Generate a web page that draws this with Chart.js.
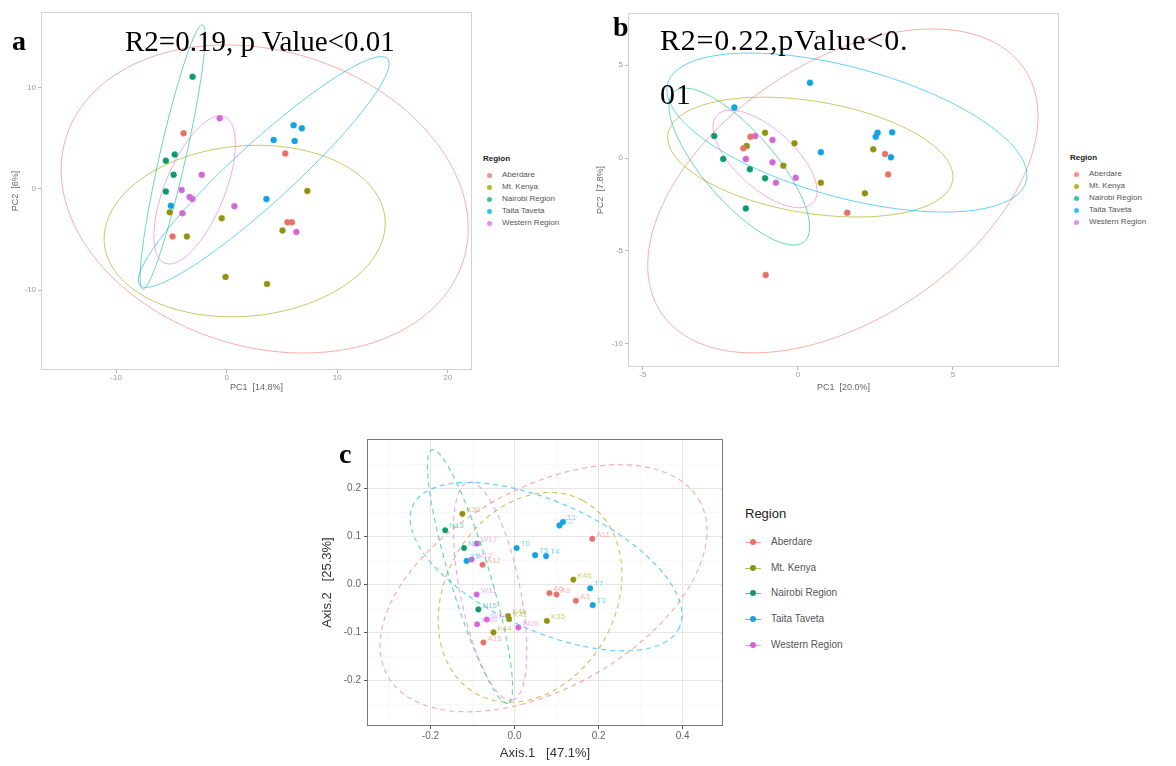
<!DOCTYPE html>
<html>
<head>
<meta charset="utf-8">
<script src="https://cdn.jsdelivr.net/npm/chart.js@4.4.1/dist/chart.umd.min.js"></script>
<style>
body { margin: 0; background: #fff; width: 1176px; height: 766px; position: relative; overflow: hidden; font-family: 'Liberation Sans', Arial, sans-serif; }
canvas { position: absolute; }
.lbl { position: absolute; font-family: 'Liberation Serif', 'Times New Roman', serif; line-height: 1; white-space: nowrap; color: #000; }
.leg { position: absolute; white-space: nowrap; line-height: 1; }
</style>
</head>
<body>
<canvas id="chartA" width="480" height="400" style="left:0;top:0"></canvas>
<canvas id="chartB" width="490" height="400" style="left:580px;top:0"></canvas>
<canvas id="chartC" width="440" height="336" style="left:300px;top:430px"></canvas>

<div class="lbl" style="left:12px;top:27px;font-size:28px;font-weight:bold">a</div>
<div class="lbl" style="left:125px;top:27px;font-size:29px">R2=0.19, p Value&lt;0.01</div>
<div class="lbl" style="left:613px;top:13px;font-size:28px;font-weight:bold">b</div>
<div class="lbl" style="left:660px;top:25px;font-size:30px;letter-spacing:0.8px">R2=0.22,pValue&lt;0.</div>
<div class="lbl" style="left:660px;top:79px;font-size:30px;letter-spacing:0.8px">01</div>
<div class="lbl" style="left:339px;top:440px;font-size:28px;font-weight:bold">c</div>

<script>
const regions = ['Aberdare', 'Mt. Kenya', 'Nairobi Region', 'Taita Taveta', 'Western Region'];
const hues = ['#F8766D', '#A3A500', '#00BF7D', '#00B0F6', '#E76BF3'];
const dotColors = ['#e4736a', '#8e9218', '#17946e', '#1aa0dc', '#d068d6'];

// panel a: [region, PC1, PC2]
const pointsA = [
    [0, -3.9, 5.5], [0, 5.3, 3.5], [0, 5.5, -3.3], [0, 5.9, -3.3], [0, -4.9, -4.7],
    [1, 7.3, -0.2], [1, -5.15, -2.3], [1, -0.45, -2.9], [1, 5.05, -4.1], [1, -3.6, -4.7], [1, -0.1, -8.7], [1, 3.65, -9.4],
    [2, -3.08, 11.1], [2, -4.7, 3.4], [2, -5.5, 2.8], [2, -4.8, 1.4], [2, -5.5, -0.25],
    [3, 4.25, 4.85], [3, 6.06, 6.3], [3, 6.8, 6.0], [3, 6.15, 4.75], [3, 3.6, -1.0], [3, -5.05, -1.65],
    [4, -0.63, 7.0], [4, -2.26, 1.4], [4, -4.07, -0.1], [4, -3.35, -0.8], [4, -3.1, -1.0], [4, 0.7, -1.7], [4, -4.0, -2.4], [4, 6.3, -4.25]
];
// ellipses: [cx, cy, ux, uy, vx, vy] in data units, region order
const ellipsesA = [
    [3.44, -0.99, 18.0, -6.0, -3.9, -14.0],
    [1.63, -4.16, 12.7, 1.22, 0.67, -8.39],
    [-4.89, 3.17, 2.71, 13.07, 1.15, -0.29],
    [3.35, 1.68, 11.2, 11.2, 1.81, -2.18],
    [-2.9, -0.1, 2.71, 7.23, 2.5, -1.13]
];
const xTicksA = [-10, 0, 10, 20];
const yTicksA = [-10, 0, 10];

// panel b
const pointsB = [
    [0, -1.53, 1.15], [0, -1.76, 0.52], [0, 2.81, 0.22], [0, 2.91, -0.88], [0, 1.59, -2.94], [0, -1.04, -6.29],
    [1, -1.06, 1.36], [1, -0.11, 0.79], [1, -1.65, 0.65], [1, -0.47, -0.41], [1, 0.74, -1.33], [1, 2.16, -1.9], [1, 2.43, 0.47],
    [2, -2.7, 1.18], [2, -2.41, -0.05], [2, -1.55, -0.61], [2, -1.06, -1.09], [2, -1.68, -2.71],
    [3, 0.39, 4.05], [3, -2.05, 2.72], [3, 0.74, 0.31], [3, 2.57, 1.36], [3, 2.51, 1.15], [3, 3.04, 1.38], [3, 3.0, 0.04],
    [4, -1.38, 1.18], [4, -0.82, 0.97], [4, -1.68, -0.05], [4, -0.82, -0.23], [4, -0.07, -1.06], [4, -0.71, -1.33]
];
const ellipsesB = [
    [1.45, -1.77, 5.85, 6.57, 2.32, -5.72],
    [0.40, 0.05, 4.59, -1.25, -0.29, -2.97],
    [-1.89, -0.46, 2.10, -4.03, -0.86, -1.25],
    [1.58, 1.37, 5.78, -2.63, -0.55, -3.37],
    [-1.06, -0.05, 1.55, -2.35, -0.64, -1.17]
];
const xTicksB = [-5, 0, 5];
const yTicksB = [-10, -5, 0, 5];

// panel c: [region, Axis.1, Axis.2, sample]
const pointsC = [
    [0, -0.076, 0.041, 'A12'], [0, 0.083, -0.018, 'A6'], [0, 0.10, -0.021, 'A8'], [0, 0.146, -0.034, 'A3'], [0, 0.185, 0.095, 'A11'], [0, -0.074, -0.121, 'A15'],
    [1, -0.124, 0.147, 'K39'], [1, 0.14, 0.01, 'K46'], [1, -0.015, -0.066, 'K40'], [1, -0.013, -0.072, 'K41'], [1, 0.077, -0.076, 'K35'], [1, -0.05, -0.10, 'K44'],
    [2, -0.165, 0.113, 'N13'], [2, -0.12, 0.076, 'N12'], [2, -0.086, -0.052, 'N15'],
    [3, 0.005, 0.076, 'T6'], [3, -0.114, 0.049, 'T9'], [3, 0.107, 0.123, 'T2'], [3, 0.115, 0.13, 'T1'], [3, 0.075, 0.059, 'T4'], [3, 0.049, 0.061, 'T5'], [3, 0.18, -0.008, 'T7'], [3, 0.186, -0.043, 'T3'],
    [4, -0.09, 0.085, 'W17'], [4, -0.102, 0.052, 'W12'], [4, -0.09, -0.021, 'W11'], [4, -0.089, -0.083, 'W16'], [4, -0.066, -0.073, 'W14'], [4, 0.009, -0.09, 'W20']
];
const ellipsesC = [
    [0.069, -0.008, 0.370, 0.184, 0.120, -0.180],
    [0.037, -0.027, 0.1255, 0.2019, 0.179, -0.0837],
    [-0.106, 0.0165, 0.0905, -0.264, -0.0457, -0.0118],
    [0.075, 0.037, 0.317, -0.127, -0.0645, -0.121],
    [-0.058, -0.014, 0.052, -0.227, 0.070, 0.012]
];
const xTicksC = [-0.2, 0, 0.2, 0.4];
const xTickLabelsC = ['-0.2', '0.0', '0.2', '0.4'];
const xMinorC = [-0.3, -0.1, 0.1, 0.3];
const yTicksC = [-0.2, -0.1, 0, 0.1, 0.2];
const yTickLabelsC = ['-0.2', '-0.1', '0.0', '0.1', '0.2'];
const yMinorC = [-0.25, -0.15, -0.05, 0.05, 0.15, 0.25];

function alpha(hex, a) {
    const n = parseInt(hex.slice(1), 16);
    return `rgba(${n >> 16},${(n >> 8) & 255},${n & 255},${a})`;
}

// draws the confidence ellipses through the chart scales
const ellipsePlugin = {
    id: 'ellipses',
    beforeDatasetsDraw(chart, args, opts) {
        const { ctx, chartArea } = chart;
        const sx = chart.scales.x, sy = chart.scales.y;
        ctx.save();
        ctx.beginPath();
        ctx.rect(chartArea.left, chartArea.top, chartArea.width, chartArea.height);
        ctx.clip();
        ctx.lineWidth = opts.width;
        ctx.setLineDash(opts.dash);
        opts.items.forEach((e, i) => {
            ctx.beginPath();
            for (let k = 0; k <= 180; k++) {
                const t = k / 180 * Math.PI * 2;
                const px = sx.getPixelForValue(e[0] + e[2] * Math.cos(t) + e[4] * Math.sin(t));
                const py = sy.getPixelForValue(e[1] + e[3] * Math.cos(t) + e[5] * Math.sin(t));
                if (k === 0) ctx.moveTo(px, py); else ctx.lineTo(px, py);
            }
            ctx.strokeStyle = alpha(hues[i], opts.alpha);
            ctx.stroke();
        });
        ctx.restore();
    }
};

const framePlugin = {
    id: 'frame',
    afterDraw(chart, args, opts) {
        const { ctx, chartArea: a } = chart;
        ctx.save();
        ctx.strokeStyle = opts.color;
        ctx.lineWidth = 1;
        ctx.strokeRect(Math.round(a.left) + 0.5, Math.round(a.top) + 0.5, Math.round(a.width) - 1, Math.round(a.height) - 1);
        ctx.restore();
    }
};

const labelPlugin = {
    id: 'pointLabels',
    afterDatasetsDraw(chart, args, opts) {
        if (!opts.show) return;
        const ctx = chart.ctx;
        ctx.save();
        ctx.font = '8px "Liberation Sans"';
        ctx.textBaseline = 'middle';
        chart.data.datasets.forEach((ds, i) => {
            chart.getDatasetMeta(i).data.forEach((pt, j) => {
                ctx.fillStyle = alpha(hues[i], 0.55);
                ctx.fillText(ds.sampleLabels[j], pt.x + 4, pt.y - 4);
            });
        });
        ctx.restore();
    }
};

function datasetsFrom(rows, radius) {
    return regions.map((name, r) => {
        const mine = rows.filter((row) => row[0] === r);
        return {
            label: name,
            data: mine.map((row) => ({ x: row[1], y: row[2] })),
            sampleLabels: mine.map((row) => row[3] || ''),
            backgroundColor: dotColors[r],
            borderColor: alpha(hues[r], 0.5),
            borderWidth: 1,
            pointRadius: radius
        };
    });
}

function smallAxis(min, max, ticks, fit, title, titlePad, isY) {
    return {
        type: 'linear',
        min: min,
        max: max,
        afterBuildTicks: (s) => { s.ticks = ticks.map((v) => ({ value: v })); },
        afterFit: (s) => { if (isY) s.width = fit; else s.height = fit; },
        border: { display: false },
        grid: { drawOnChartArea: false, tickLength: 3, tickColor: '#b5b5b5' },
        ticks: { font: { size: 8, family: 'Liberation Sans' }, color: '#999', padding: isY ? 2 : 0, callback: (v) => String(v) },
        title: { display: true, text: title, font: { size: 9, family: 'Liberation Sans' }, color: '#666', padding: titlePad }
    };
}

function pcaChart(id, rows, ellipses, xs, ys, pad) {
    return new Chart(document.getElementById(id), {
        type: 'scatter',
        data: { datasets: datasetsFrom(rows, 3) },
        options: {
            responsive: false,
            animation: false,
            layout: { padding: pad },
            plugins: {
                legend: { display: false },
                tooltip: { enabled: false },
                ellipses: { items: ellipses, dash: [], width: 1, alpha: 0.6 },
                frame: { color: '#d2d2d2' },
                pointLabels: { show: false }
            },
            scales: { x: xs, y: ys }
        },
        plugins: [ellipsePlugin, framePlugin, labelPlugin]
    });
}

pcaChart('chartA', pointsA, ellipsesA,
    smallAxis(-16.8, 22.2, xTicksA, 30, 'PC1  [14.8%]', { top: 2, bottom: 7 }, false),
    smallAxis(-17.9, 17.5, yTicksA, 41, 'PC2  [6%]', { top: 10, bottom: 2 }, true),
    { top: 12, right: 8, left: 0, bottom: 0 });

pcaChart('chartB', pointsB, ellipsesB,
    smallAxis(-5.48, 8.42, xTicksB, 33, 'PC1  [20.0%]', { top: 2, bottom: 7 }, false),
    smallAxis(-11.24, 7.8, yTicksB, 48, 'PC2  [7.8%]', { top: 15, bottom: 2 }, true),
    { top: 13, right: 11, left: 0, bottom: 0 });

function gridAxis(min, max, major, labels, minor, fit, title, titlePad, isY) {
    const isMajor = (v) => major.some((m) => Math.abs(m - v) < 1e-9);
    return {
        type: 'linear',
        min: min,
        max: max,
        afterBuildTicks: (s) => {
            s.ticks = major.concat(minor).sort((p, q) => p - q).map((v) => ({ value: v }));
        },
        afterFit: (s) => { if (isY) s.width = fit; else s.height = fit; },
        border: { display: false },
        grid: {
            tickLength: 3,
            color: (c) => (isMajor(c.tick.value) ? '#e6e6e6' : '#f3f3f3'),
            lineWidth: (c) => (isMajor(c.tick.value) ? 1 : 0.6),
            tickColor: (c) => (isMajor(c.tick.value) ? '#555' : 'rgba(0,0,0,0)')
        },
        ticks: {
            font: { size: 10, family: 'Liberation Sans' },
            color: '#666',
            padding: isY ? 3 : 1,
            autoSkip: false,
            maxRotation: 0,
            callback: (v) => {
                const k = major.findIndex((m) => Math.abs(m - v) < 1e-9);
                return k < 0 ? '' : labels[k];
            }
        },
        title: { display: true, text: title, font: { size: 13, family: 'Liberation Sans' }, color: '#333', padding: titlePad }
    };
}

new Chart(document.getElementById('chartC'), {
    type: 'scatter',
    data: { datasets: datasetsFrom(pointsC, 2.8) },
    options: {
        responsive: false,
        animation: false,
        layout: { padding: { top: 6, right: 17, left: 0, bottom: 0 } },
        plugins: {
            legend: { display: false },
            tooltip: { enabled: false },
            ellipses: { items: ellipsesC, dash: [5, 4], width: 1.2, alpha: 0.6 },
            frame: { color: '#777' },
            pointLabels: { show: true }
        },
        scales: {
            x: gridAxis(-0.351, 0.496, xTicksC, xTickLabelsC, xMinorC, 40, 'Axis.1   [47.1%]', { top: 2, bottom: 5 }, false),
            y: gridAxis(-0.295, 0.303, yTicksC, yTickLabelsC, yMinorC, 67, 'Axis.2   [25.3%]', { top: 20, bottom: 2 }, true)
        }
    },
    plugins: [ellipsePlugin, framePlugin, labelPlugin]
});

// legends (html text)
function legend(left, top, titleH, gap, titleSize, itemSize, withLine) {
    const box = document.createElement('div');
    box.className = 'leg';
    box.style.left = left + 'px';
    box.style.top = top + 'px';
    let html = `<div style="font-size:${titleSize}px;color:#222;${withLine ? '' : 'font-weight:bold;'}height:${titleH}px">Region</div>`;
    regions.forEach((name, i) => {
        const sym = withLine
            ? `<span style="display:inline-block;position:relative;width:16px;height:${itemSize}px;margin-right:10px;vertical-align:middle">
                 <span style="position:absolute;left:0;right:0;top:50%;border-top:1px solid ${alpha(hues[i], 0.7)}"></span>
                 <span style="position:absolute;left:5px;top:50%;margin-top:-3px;width:6px;height:6px;border-radius:50%;background:${dotColors[i]}"></span></span>`
            : `<span style="display:inline-block;width:5px;height:5px;border-radius:50%;background:${alpha(hues[i], 0.8)};margin:0 10px 0 4px;vertical-align:middle"></span>`;
        html += `<div style="height:${gap}px;font-size:${itemSize}px;color:#555;display:flex;align-items:center">${sym}${name}</div>`;
    });
    box.innerHTML = html;
    document.body.appendChild(box);
}
legend(483, 155, 14, 12, 8, 8, false);
legend(1070, 154, 14, 12, 8, 8, false);
legend(745, 507, 22, 25.75, 13, 10, true);
</script>
</body>
</html>
